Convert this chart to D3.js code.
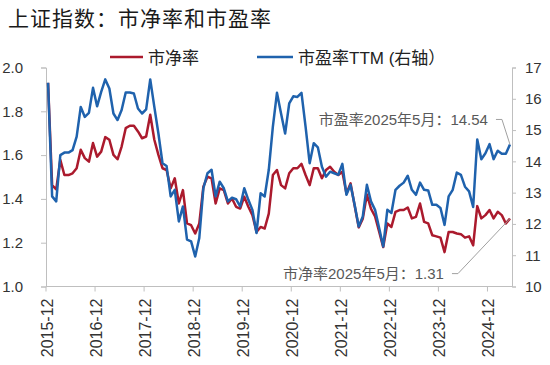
<!DOCTYPE html>
<html>
<head>
<meta charset="utf-8">
<script src="https://cdn.jsdelivr.net/npm/d3@7"></script>
<style>
  body { margin: 0; background: #fff; }
  svg { display: block; }
  text { font-family: "Liberation Sans", Arial, "Noto Sans CJK SC", sans-serif; }
</style>
</head>
<body>
<div id="chart"></div>
<script>
// Monthly categories, 2015-12 .. 2025-05
const months = [];
for (let i = 0; i < 114; i++) {
    months.push(d3.timeFormat("%Y-%m")(new Date(2015, 11 + i, 1)));
}

const tickLabels = ["2015-12", "2016-12", "2017-12", "2018-12", "2019-12",
    "2020-12", "2021-12", "2022-12", "2023-12", "2024-12"];

// 市净率 (left axis)
const pb = [
    1.93, 1.463, 1.443, 1.578, 1.509, 1.509, 1.517, 1.540, 1.624, 1.586,
    1.570, 1.655, 1.593, 1.616, 1.682, 1.670, 1.601, 1.581, 1.639, 1.723,
    1.734, 1.734, 1.708, 1.677, 1.685, 1.784, 1.670, 1.601, 1.540, 1.532,
    1.448, 1.494, 1.379, 1.440, 1.288, 1.280, 1.242, 1.288, 1.456, 1.501,
    1.494, 1.379, 1.448, 1.440, 1.379, 1.402, 1.364, 1.356, 1.410, 1.364,
    1.326, 1.249, 1.272, 1.265, 1.333, 1.509, 1.532, 1.463, 1.448, 1.517,
    1.540, 1.540, 1.560, 1.509, 1.463, 1.540, 1.540, 1.494, 1.532, 1.547,
    1.524, 1.509, 1.524, 1.425, 1.471, 1.370, 1.270, 1.310, 1.420, 1.355,
    1.320, 1.250, 1.180, 1.288, 1.272, 1.341, 1.349, 1.349, 1.361, 1.311,
    1.318, 1.379, 1.295, 1.288, 1.234, 1.229, 1.223, 1.157, 1.249, 1.249,
    1.242, 1.239, 1.223, 1.229, 1.188, 1.367, 1.311, 1.326, 1.349, 1.311,
    1.341, 1.326, 1.288, 1.31
];

// 市盈率TTM (right axis)
const pe = [
    16.51, 12.88, 12.72, 14.20, 14.28, 14.28, 14.36, 14.79, 15.74, 15.42,
    15.55, 16.35, 15.76, 16.22, 16.62, 16.33, 15.53, 15.32, 15.64, 16.20,
    16.20, 16.17, 15.69, 15.53, 15.66, 16.62, 15.74, 14.89, 13.94, 13.85,
    12.88, 13.09, 12.08, 12.56, 11.50, 11.44, 10.96, 11.55, 13.14, 13.62,
    13.73, 12.88, 13.35, 13.14, 12.72, 12.84, 12.79, 12.56, 13.14, 12.77,
    12.45, 11.71, 12.98, 12.88, 13.73, 15.11, 16.19, 15.53, 14.89, 15.85,
    16.08, 16.06, 16.19, 15.11, 13.94, 14.58, 14.45, 13.83, 13.51, 13.67,
    13.62, 13.57, 13.92, 12.93, 13.25, 12.61, 11.92, 12.24, 13.25, 12.72,
    12.45, 11.87, 11.28, 12.45, 12.35, 13.09, 13.22, 13.32, 13.54, 13.09,
    12.93, 13.32, 13.09, 13.07, 12.61, 12.61, 12.51, 11.97, 12.88, 13.09,
    13.64, 13.57, 13.19, 13.04, 12.54, 14.70, 14.07, 14.26, 14.55, 14.07,
    14.34, 14.24, 14.24, 14.54
];

const leftTicks = [1.0, 1.2, 1.4, 1.6, 1.8, 2.0];
const rightTicks = [10, 11, 12, 13, 14, 15, 16, 17];

const RED = "#ab1a2d";
const BLUE = "#1f62ad";
const AXIS = "#bfbfbf";
const LABEL = "#333";

const width = 550, height = 365;
const plot = {left: 46, right: 512, top: 67.5, bottom: 286.5};

const svg = d3.select("#chart").append("svg")
    .attr("width", width)
    .attr("height", height);

const x = d3.scaleBand().domain(months).range([plot.left, plot.right]);
const cx = i => x(months[i]) + x.bandwidth() / 2;
const yL = d3.scaleLinear().domain([1, 2]).range([plot.bottom, plot.top]);
const yR = d3.scaleLinear().domain([10, 17]).range([plot.bottom, plot.top]);

// Title
svg.append("text")
    .attr("x", 8).attr("y", 25.5)
    .attr("font-size", 21)
    .attr("letter-spacing", 1)
    .attr("fill", "#1a1a1a")
    .style("font-family", "'Noto Sans CJK SC', sans-serif")
    .text("上证指数：市净率和市盈率");

// Left axis
const gL = svg.append("g")
    .attr("transform", `translate(${plot.left},0)`)
    .call(d3.axisLeft(yL).tickValues(leftTicks).tickFormat(d3.format(".1f"))
        .tickSize(5).tickPadding(18));

// Right axis
const gR = svg.append("g")
    .attr("transform", `translate(${plot.right},0)`)
    .call(d3.axisRight(yR).tickValues(rightTicks).tickFormat(d3.format("d"))
        .tickSize(4).tickPadding(9));

[gL, gR].forEach(g => {
    g.select(".domain").attr("stroke", AXIS);
    g.selectAll(".tick line").attr("stroke", AXIS);
    g.selectAll(".tick text").attr("fill", LABEL).attr("font-size", 15)
        .style("font-family", "'Liberation Sans', Arial, sans-serif");
});

// Bottom axis (ticks at category boundaries)
svg.append("line")
    .attr("x1", plot.left).attr("x2", plot.right)
    .attr("y1", plot.bottom).attr("y2", plot.bottom)
    .attr("stroke", AXIS);

const xt = svg.append("g").selectAll("g")
    .data(tickLabels)
    .join("g")
    .attr("transform", d => `translate(${x(d)},${plot.bottom})`);
xt.append("line").attr("y2", 5).attr("stroke", AXIS);
xt.append("text")
    .attr("transform", "translate(1,12) rotate(-90)")
    .attr("text-anchor", "end")
    .attr("dy", "0.35em")
    .attr("font-size", 16)
    .attr("fill", LABEL)
    .style("font-family", "'Liberation Sans', Arial, sans-serif")
    .text(d => d);

// Lines
svg.append("path")
    .datum(pb)
    .attr("fill", "none")
    .attr("stroke", RED)
    .attr("stroke-width", 2.5)
    .attr("stroke-linejoin", "round")
    .attr("d", d3.line().x((d, i) => cx(i)).y(d => yL(d)));

svg.append("path")
    .datum(pe)
    .attr("fill", "none")
    .attr("stroke", BLUE)
    .attr("stroke-width", 2.5)
    .attr("stroke-linejoin", "round")
    .attr("d", d3.line().x((d, i) => cx(i)).y(d => yR(d)));

// Legend
const legend = [
    {label: "市净率", color: RED, x: 110, len: 33},
    {label: "市盈率TTM (右轴）", color: BLUE, x: 257, len: 36}
];
legend.forEach(l => {
    svg.append("line")
        .attr("x1", l.x).attr("x2", l.x + l.len)
        .attr("y1", 57).attr("y2", 57)
        .attr("stroke", l.color).attr("stroke-width", 2.5);
    svg.append("text")
        .attr("x", l.x + l.len + 5).attr("y", 63.5)
        .attr("font-size", 17)
        .attr("fill", "#222")
        .text(l.label);
});

// Annotations for the last value
const last = months.length - 1;
const notes = [
    {text: "市盈率2025年5月：" + pe[last].toFixed(2), px: cx(last), py: yR(pe[last]), dx: -8, dy: -25},
    {text: "市净率2025年5月：" + pb[last].toFixed(2), px: cx(last), py: yL(pb[last]), dx: -52, dy: 55}
];
notes.forEach(n => {
    const ex = n.px + n.dx, ey = n.py + n.dy;
    svg.append("polyline")
        .attr("points", `${ex - 6},${ey} ${ex},${ey} ${n.px},${n.py}`)
        .attr("fill", "none")
        .attr("stroke", "#a0a0a0")
        .attr("stroke-width", 1);
    svg.append("text")
        .attr("x", ex - 14).attr("y", ey + 5.5)
        .attr("text-anchor", "end")
        .attr("font-size", 15)
        .attr("fill", "#595959")
        .text(n.text);
});
</script>
</body>
</html>
